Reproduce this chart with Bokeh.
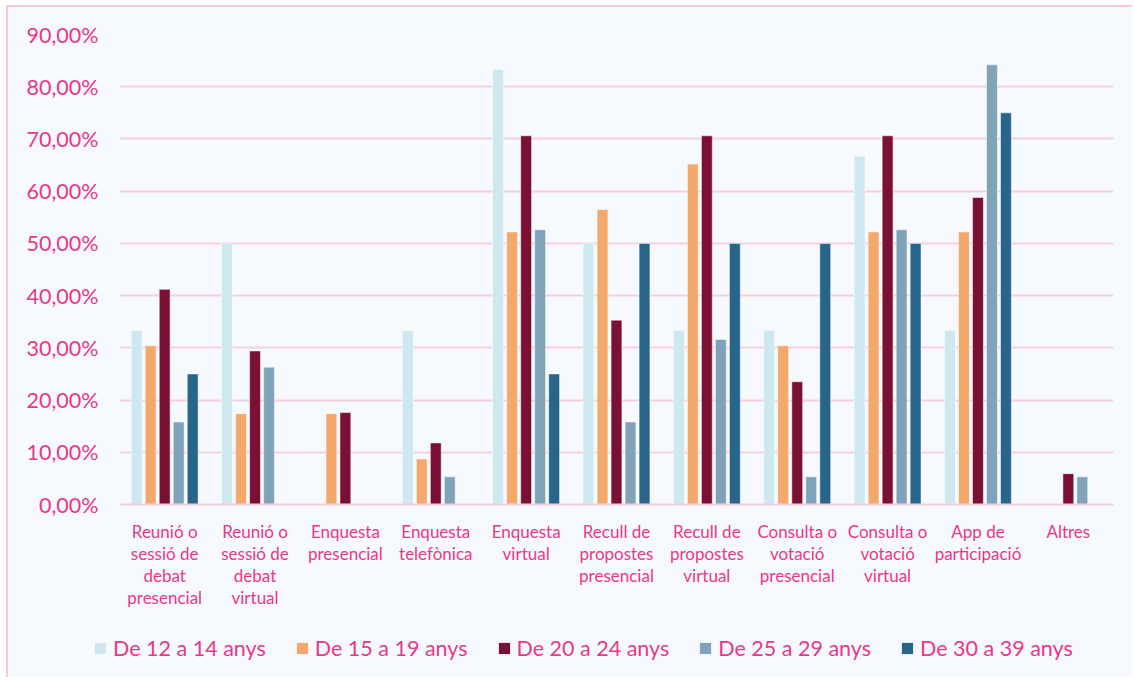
from bokeh.plotting import figure
from bokeh.models import ColumnDataSource, FactorRange, FixedTicker, Legend, LegendItem
from bokeh.layouts import column, row
from bokeh.transform import dodge
from bokeh.embed import file_html
from bokeh.resources import INLINE

categories = [
    "Reunió o\nsessió de\ndebat\npresencial",
    "Reunió o\nsessió de\ndebat\nvirtual",
    "Enquesta\npresencial",
    "Enquesta\ntelefònica",
    "Enquesta\nvirtual",
    "Recull de\npropostes\npresencial",
    "Recull de\npropostes\nvirtual",
    "Consulta o\nvotació\npresencial",
    "Consulta o\nvotació\nvirtual",
    "App de\nparticipació",
    "Altres",
]

series_names = ["De 12 a 14 anys", "De 15 a 19 anys", "De 20 a 24 anys",
                "De 25 a 29 anys", "De 30 a 39 anys"]

age_12_14 = [33.3, 50.0, None, 33.3, 83.3, 50.0, 33.3, 33.3, 66.7, 33.3, None]
age_15_19 = [30.4, 17.4, 17.4, 8.7, 52.2, 56.5, 65.2, 30.4, 52.2, 52.2, None]
age_20_24 = [41.2, 29.4, 17.6, 11.8, 70.6, 35.3, 70.6, 23.5, 70.6, 58.8, 5.9]
age_25_29 = [15.8, 26.3, None, 5.3, 52.6, 15.8, 31.6, 5.3, 52.6, 84.2, 5.3]
age_30_39 = [25.0, None, None, None, 25.0, 50.0, 50.0, 50.0, 50.0, 75.0, None]

y_ticks = [0, 10, 20, 30, 40, 50, 60, 70, 80, 90]
y_tick_labels = ["0,00%", "10,00%", "20,00%", "30,00%", "40,00%", "50,00%",
                 "60,00%", "70,00%", "80,00%", "90,00%"]

colors = ["#CDE8EE", "#F2A96B", "#7B1035", "#7FA3B8", "#27658A"]
offsets = [-0.31, -0.155, 0.0, 0.155, 0.31]

TEXT = "#E8388B"
BG = "#F6F9FD"
GRID = "#F8CFE2"
BORDER = "#F8C9DD"
FONT = "Lato"

def clean(vals):
    return [float("nan") if v is None else v for v in vals]

data = {"cat": categories}
all_series = [age_12_14, age_15_19, age_20_24, age_25_29, age_30_39]
for i, s in enumerate(all_series):
    data["s%d" % i] = clean(s)
source = ColumnDataSource(data)

W = 1124

p = figure(
    x_range=FactorRange(*categories, range_padding=0),
    y_range=(0, 90),
    width=W, height=618,
    output_backend="svg", toolbar_location=None,
    background_fill_color=BG, border_fill_color=BG,
    min_border_left=111, min_border_right=19, min_border_top=27, min_border_bottom=121,
)
p.outline_line_color = None

for i in range(5):
    p.vbar(x=dodge("cat", offsets[i], range=p.x_range), top="s%d" % i, width=0.12,
           source=source, fill_color=colors[i], line_color="white", line_alpha=0.5,
           line_width=1)

# axes
p.yaxis.ticker = FixedTicker(ticks=y_ticks)
p.yaxis.major_label_overrides = {t: lab for t, lab in zip(y_ticks, y_tick_labels)}
p.yaxis.axis_line_color = None
p.yaxis.major_tick_line_color = None
p.yaxis.minor_tick_line_color = None
p.yaxis.major_label_text_color = TEXT
p.yaxis.major_label_text_font = FONT
p.yaxis.major_label_text_font_size = "21.5px"
p.yaxis.major_label_standoff = 15

p.xaxis.axis_line_color = GRID
p.xaxis.axis_line_width = 2
p.xaxis.major_tick_line_color = None
p.xaxis.minor_tick_line_color = None
p.xaxis.major_label_text_color = TEXT
p.xaxis.major_label_text_font = FONT
p.xaxis.major_label_text_font_size = "17px"
p.xaxis.major_label_text_line_height = 1.05
p.xaxis.major_label_standoff = 10
p.xaxis.major_label_orientation = "horizontal"

p.xgrid.grid_line_color = None
p.ygrid.grid_line_color = GRID
p.ygrid.grid_line_width = 2

# legend in its own strip below the chart (swatch renderers sit outside its visible range)
lf = figure(width=W, height=52, x_range=(0, 1), y_range=(0, 1),
            output_backend="svg", toolbar_location=None,
            x_axis_location=None, y_axis_location=None,
            background_fill_color=BG, border_fill_color=BG,
            min_border=0, min_border_left=0, min_border_right=0,
            min_border_top=0, min_border_bottom=0)
lf.grid.visible = False
lf.outline_line_color = None
swatch = ColumnDataSource(dict(x=[5.0], top=[5.0], bottom=[4.0]))
legend_renderers = []
for i in range(5):
    r = lf.vbar(x="x", top="top", bottom="bottom", source=swatch, width=0.1,
                fill_color=colors[i], line_color=None)
    legend_renderers.append(r)

legend = Legend(
    items=[LegendItem(label=series_names[i], renderers=[legend_renderers[i]]) for i in range(5)],
    orientation="horizontal", location=(85, 16),
    background_fill_alpha=0, border_line_color=None,
    label_text_color=TEXT, label_text_font=FONT, label_text_font_size="21.5px",
    glyph_width=14, glyph_height=14, label_standoff=6, spacing=29,
    margin=0, padding=0,
)
lf.add_layout(legend, "center")

layout = column(p, row(lf), spacing=0)
layout.styles = {"margin-left": "6px", "margin-top": "5px",
                 "border-left": "2px solid " + BORDER, "border-top": "2px solid " + BORDER,
                 "background-color": BG}

open("out.html", "w").write(file_html(layout, INLINE))
